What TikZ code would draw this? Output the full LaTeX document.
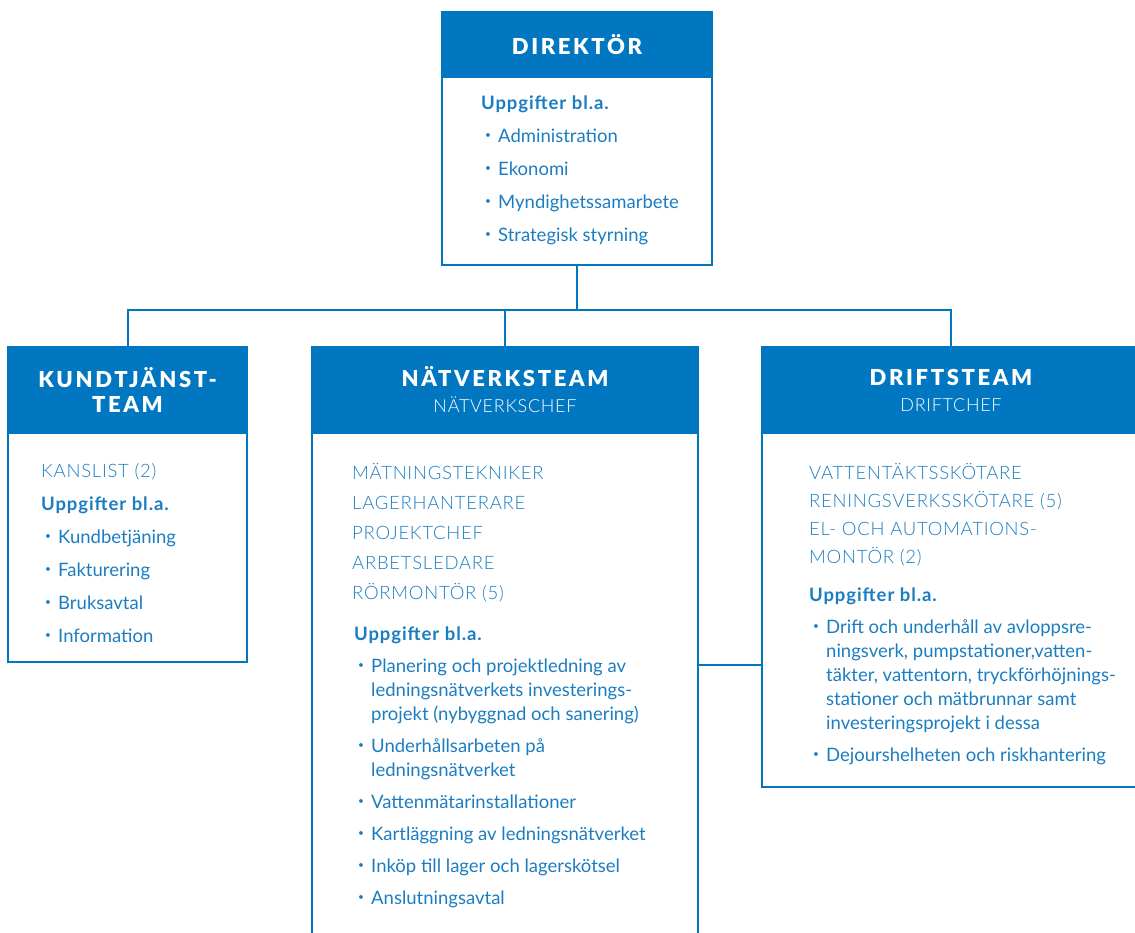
\documentclass[tikz,border=0pt]{standalone}
\usepackage{fontspec}
\setmainfont{Lato}
\newfontfamily\headfont[LetterSpace=12]{Lato Black}
\newfontfamily\rolefont[LetterSpace=4]{Lato Light}
\usepackage{xcolor}
\usetikzlibrary{positioning}

\definecolor{vablue}{HTML}{0077C0}
\definecolor{vatext}{HTML}{1B7DC1}

\newcommand{\bul}{\makebox[17pt][l]{\hspace{4pt}\raisebox{.35ex}{\scalebox{.55}{\textbullet}}}}
\newcommand{\ind}{\hspace*{17pt}}
\newcommand{\uppg}{{\bfseries\addfontfeatures{LetterSpace=5}Uppgifter bl.a.}}
\newcommand{\chief}{\rolefont\fontsize{18}{20}\selectfont}

\begin{document}
\begin{tikzpicture}[
  x=1pt,y=-1pt,
  head/.style={rectangle,draw=vablue,fill=vablue,line width=2pt,inner sep=0pt,outer sep=0pt,
    text=white,align=center,font=\headfont\fontsize{22}{25}\selectfont},
  body/.style={rectangle,draw=vablue,line width=2pt,inner sep=0pt,outer sep=0pt},
  roles/.style={anchor=base west,align=left,inner sep=0pt,text=vatext},
  tasks/.style={anchor=base west,align=left,inner sep=0pt,text=vatext},
  link/.style={draw=vablue,line width=2pt}
]
\useasboundingbox (0,0) rectangle (1135,932);

% text nodes are placed by the baseline of their last line

%%%%%%%%%%%%%%%%%%%%%%%%%%%%%%%%%%%%%%%%%%%%%%%%%%%%
% Direktor
%%%%%%%%%%%%%%%%%%%%%%%%%%%%%%%%%%%%%%%%%%%%%%%%%%%%
\node[head,anchor=north west,minimum width=270pt,minimum height=65pt] (dirHead) at (442,12) {DIREKTÖR};
\node[body,minimum width=270pt,minimum height=188pt,below=0pt of dirHead] (dirBody) {};
\node[tasks,font=\fontsize{18.5}{33}\selectfont] (dirText) at (481,241)
  {\uppg\\ \bul Administration\\ \bul Ekonomi\\ \bul Myndighetssamarbete\\ \bul Strategisk styrning};

%%%%%%%%%%%%%%%%%%%%%%%%%%%%%%%%%%%%%%%%%%%%%%%%%%%%
% Kundtjanstteam
%%%%%%%%%%%%%%%%%%%%%%%%%%%%%%%%%%%%%%%%%%%%%%%%%%%%
\node[head,anchor=north west,minimum width=239pt,minimum height=86pt] (kundHead) at (8,347) {KUNDTJÄNST-\\TEAM};
\node[body,minimum width=239pt,minimum height=229pt,below=0pt of kundHead] (kundBody) {};
\node[tasks,font=\fontsize{18.5}{33}\selectfont] (kundText) at (41,642)
  {{\rolefont\fontsize{18.5}{33}\selectfont KANSLIST (2)}\\ \uppg\\ \bul Kundbetjäning\\ \bul Fakturering\\
   \bul Bruksavtal\\ \bul Information};

%%%%%%%%%%%%%%%%%%%%%%%%%%%%%%%%%%%%%%%%%%%%%%%%%%%%
% Natverksteam
%%%%%%%%%%%%%%%%%%%%%%%%%%%%%%%%%%%%%%%%%%%%%%%%%%%%
\node[head,anchor=north west,minimum width=386pt,minimum height=86pt] (natHead) at (312,347)
  {NÄTVERKSTEAM\\[1pt]{\chief NÄTVERKSCHEF}};
\node[body,minimum width=386pt,minimum height=507pt,below=0pt of natHead] (natBody) {};
\node[roles,font=\rolefont\fontsize{18.5}{30}\selectfont] (natRoles) at (352,599)
  {MÄTNINGSTEKNIKER\\ LAGERHANTERARE\\ PROJEKTCHEF\\ ARBETSLEDARE\\ RÖRMONTÖR (5)};
\node[tasks,font=\fontsize{18.5}{24}\selectfont] (natTasks) at (354,904)
  {\uppg\\[8pt]
   \bul Planering och projektledning av\\ \ind ledningsnätverkets investerings-\\ \ind projekt (nybyggnad och sanering)\\[8pt]
   \bul Underhållsarbeten på\\ \ind ledningsnätverket\\[8pt]
   \bul Vattenmätarinstallationer\\[8pt]
   \bul Kartläggning av ledningsnätverket\\[8pt]
   \bul Inköp till lager och lagerskötsel\\[8pt]
   \bul Anslutningsavtal};

%%%%%%%%%%%%%%%%%%%%%%%%%%%%%%%%%%%%%%%%%%%%%%%%%%%%
% Driftsteam
%%%%%%%%%%%%%%%%%%%%%%%%%%%%%%%%%%%%%%%%%%%%%%%%%%%%
\node[head,anchor=north west,minimum width=378pt,minimum height=86pt] (driftHead) at (762,347)
  {DRIFTSTEAM\\[1pt]{\chief DRIFTCHEF}};
\node[body,minimum width=378pt,minimum height=354pt,below=0pt of driftHead] (driftBody) {};
\node[roles,font=\rolefont\fontsize{18.5}{28}\selectfont] (driftRoles) at (809,563)
  {VATTENTÄKTSSKÖTARE\\ RENINGSVERKSSKÖTARE (5)\\ EL- OCH AUTOMATIONS-\\ MONTÖR (2)};
\node[tasks,font=\fontsize{18.5}{24}\selectfont] (driftTasks) at (809,761)
  {\uppg\\[8pt]
   \bul Drift och underhåll av avloppsre-\\ \ind ningsverk, pumpstationer,vatten-\\ \ind täkter, vattentorn, tryckförhöjnings-\\
   \ind stationer och mätbrunnar samt\\ \ind investeringsprojekt i dessa\\[8pt]
   \bul Dejourshelheten och riskhantering};

%%%%%%%%%%%%%%%%%%%%%%%%%%%%%%%%%%%%%%%%%%%%%%%%%%%%
% Connectors
%%%%%%%%%%%%%%%%%%%%%%%%%%%%%%%%%%%%%%%%%%%%%%%%%%%%
\coordinate (bus) at (dirBody.south |- 0,310);
\coordinate (side) at (730,665);
\draw[link] (dirBody.south) -- (bus);
\draw[link] (bus) -| (kundHead.north);
\draw[link] (bus) -| (natHead.north);
\draw[link] (bus) -| (driftHead.north);
\draw[link] (side -| natBody.east) -- (side -| driftBody.west);

\end{tikzpicture}
\end{document}
